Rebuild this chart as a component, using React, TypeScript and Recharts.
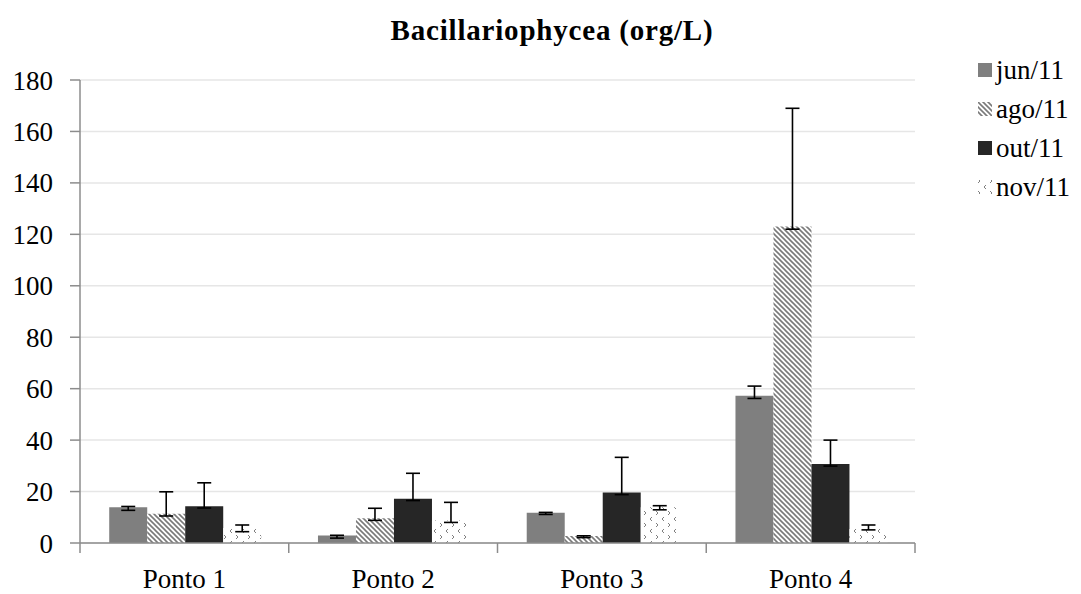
import { BarChart, Bar, XAxis, YAxis, CartesianGrid, ErrorBar } from 'recharts';

const categories = ['Ponto 1', 'Ponto 2', 'Ponto 3', 'Ponto 4'];

const junValues = [13.9, 2.9, 11.8, 57.2];
const junErrLow = [1.2, 1.0, 0.7, 1.0];
const junErrHigh = [0.3, 0.1, 0.1, 3.8];

const agoValues = [11.4, 9.6, 2.7, 123];
const agoErrLow = [0.9, 0.8, 0.6, 1.0];
const agoErrHigh = [8.5, 3.9, 0.1, 46];

const outValues = [14.3, 17.2, 19.6, 30.7];
const outErrLow = [0.7, 0.7, 0.8, 0.8];
const outErrHigh = [9.1, 9.9, 13.7, 9.3];

const novValues = [5.8, 8.7, 13.9, 5.4];
const novErrLow = [1.4, 0.7, 1.0, 0.3];
const novErrHigh = [1.2, 7.1, 0.6, 1.6];

const yTicks = [0, 20, 40, 60, 80, 100, 120, 140, 160, 180];

const series = [
  { key: 'jun', label: 'jun/11', fill: '#7f7f7f' },
  { key: 'ago', label: 'ago/11', fill: 'url(#stripes)' },
  { key: 'out', label: 'out/11', fill: '#262626' },
  { key: 'nov', label: 'nov/11', fill: 'url(#dots)' },
];

const data = categories.map((name, i) => ({
  name,
  jun: junValues[i],
  junErr: [junErrLow[i], junErrHigh[i]],
  ago: agoValues[i],
  agoErr: [agoErrLow[i], agoErrHigh[i]],
  out: outValues[i],
  outErr: [outErrLow[i], outErrHigh[i]],
  nov: novValues[i],
  novErr: [novErrLow[i], novErrHigh[i]],
}));

const FONT = '"Liberation Serif", "Times New Roman", serif';
const AXIS = '#8c8c8c';

function Patterns({ suffix = '' }: { suffix?: string }) {
  return (
    <defs>
      <pattern id={'stripes' + suffix} patternUnits="userSpaceOnUse" width="5" height="5">
        <rect width="5" height="5" fill="#ffffff" />
        <path d="M0,0 L5,5 M-1,4 L1,6 M4,-1 L6,1" stroke="#7a7a7a" strokeWidth="1.6" />
      </pattern>
      <pattern id={'dots' + suffix} patternUnits="userSpaceOnUse" width="12" height="12">
        <rect width="12" height="12" fill="#ffffff" />
        <path d="M4,1 L2,3 L4,5 M8,7 L10,9 L8,11" stroke="#808080" strokeWidth="1" fill="none" />
      </pattern>
    </defs>
  );
}

function PontoTick(props: any) {
  const { x, y, payload, index } = props;
  const half = payload && payload.offset ? payload.offset : 104;
  return (
    <g>
      <line x1={x - half} y1={y} x2={x - half} y2={y + 10} stroke={AXIS} strokeWidth={1.5} />
      {index === categories.length - 1 && (
        <line x1={x + half} y1={y} x2={x + half} y2={y + 10} stroke={AXIS} strokeWidth={1.5} />
      )}
      <text x={x} y={y + 45} textAnchor="middle" fontSize={27} fontFamily={FONT} fill="#000">
        {payload.value}
      </text>
    </g>
  );
}

export default function App() {
  return (
    <div style={{ position: 'absolute', left: 0, top: 0, width: 1081, height: 594, background: '#fff', fontFamily: FONT }}>
      <div
        style={{
          position: 'absolute',
          left: 0,
          width: 1104,
          top: 14,
          textAlign: 'center',
          fontWeight: 'bold',
          fontSize: 29,
          letterSpacing: 0.8,
          color: '#000',
        }}
      >
        Bacillariophycea (org/L)
      </div>
      <BarChart
        width={1081}
        height={594}
        data={data}
        margin={{ top: 80, right: 166, bottom: 0, left: 0 }}
        barCategoryGap="14%"
        barGap={0}
      >
        <Patterns />
        <CartesianGrid vertical={false} stroke="#e6e6e6" strokeWidth={1.5} />
        <XAxis
          dataKey="name"
          height={51}
          tickSize={0}
          tickMargin={0}
          tickLine={false}
          axisLine={{ stroke: AXIS, strokeWidth: 1.5 }}
          tick={<PontoTick />}
          interval={0}
        />
        <YAxis
          width={80}
          domain={[0, 180]}
          ticks={yTicks}
          interval={0}
          tickSize={10}
          tickMargin={17}
          axisLine={{ stroke: AXIS, strokeWidth: 1.5 }}
          tickLine={{ stroke: AXIS, strokeWidth: 1.5 }}
          tick={{ fontSize: 27, fontFamily: FONT, fill: '#000' }}
        />
        {series.map((s) => (
          <Bar key={s.key} dataKey={s.key} fill={s.fill} isAnimationActive={false}>
            <ErrorBar dataKey={s.key + 'Err'} width={7} stroke="#000" strokeWidth={1.6} direction="y" />
          </Bar>
        ))}
      </BarChart>
      <svg style={{ position: 'absolute', left: 970, top: 55 }} width={111} height={150}>
        <Patterns suffix="Legend" />
        {series.map((s, i) => (
          <g key={s.key} transform={`translate(0, ${i * 39})`}>
            <rect
              x={8}
              y={8}
              width={14}
              height={14}
              fill={s.fill.startsWith('url') ? s.fill.replace(')', 'Legend)') : s.fill}
            />
            <text x={26} y={24} fontSize={27} fontFamily={FONT} fill="#000">
              {s.label}
            </text>
          </g>
        ))}
      </svg>
    </div>
  );
}
